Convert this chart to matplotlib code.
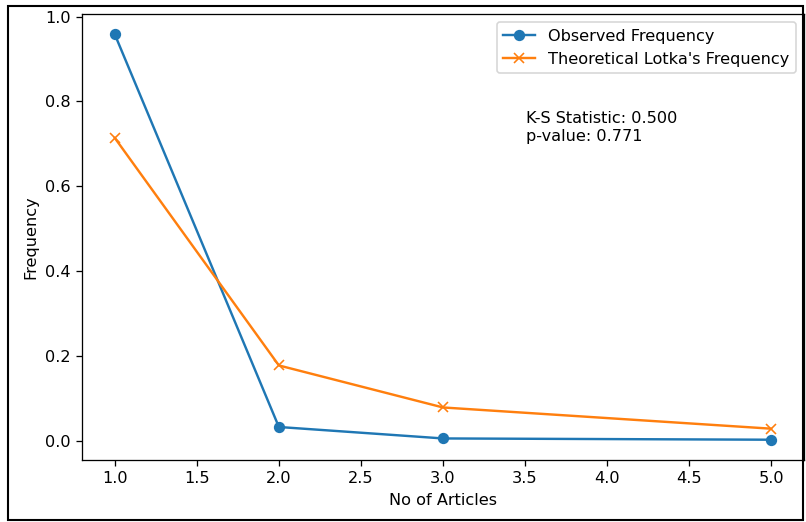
import matplotlib.pyplot as plt
from matplotlib.patches import Rectangle

# number of articles and the two frequency series
articles = [1, 2, 3, 5]
observed = [0.958, 0.033, 0.006, 0.003]
theoretical = [0.714, 0.178, 0.079, 0.029]
ks_stat = 0.500
p_value = 0.771

# reference is a slightly enlarged render, so use a higher dpi
dpi = 116
fig = plt.figure(figsize=(806 / dpi, 522 / dpi), dpi=dpi)
ax = fig.add_axes([0.1017, 0.1188, 0.8958, 0.8542])

ax.plot(articles, observed, marker='o', label='Observed Frequency')
ax.plot(articles, theoretical, marker='x', label="Theoretical Lotka's Frequency")

ax.set_xlabel('No of Articles')
ax.set_ylabel('Frequency')
ax.legend(loc='upper right')

# test result written inside the axes
ax.text(0.615, 0.782, 'K-S Statistic: %.3f\np-value: %.3f' % (ks_stat, p_value),
        transform=ax.transAxes, va='top', ha='left')

# black frame of the screenshot
fig.patches.append(Rectangle((8 / 806, 2 / 522), 795 / 806, 514 / 522,
                             transform=fig.transFigure, fill=False,
                             edgecolor='black', linewidth=1.3))

plt.savefig('out.png', dpi=dpi)
